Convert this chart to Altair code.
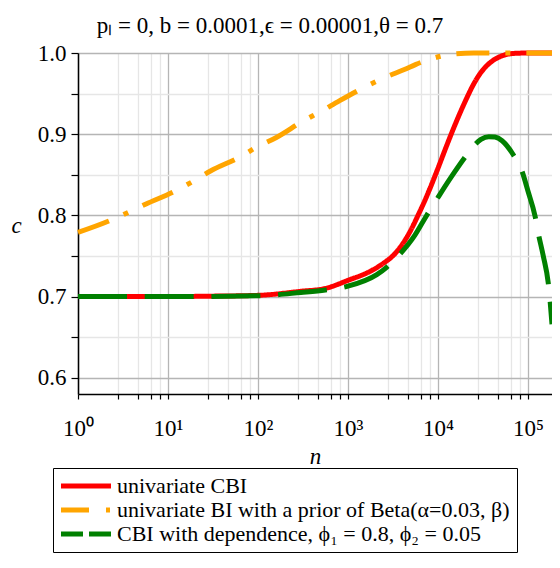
import altair as alt
import pandas as pd

# ---- data ----
series_names = [
    "univariate CBI",
    "univariate BI with a prior of Beta(α=0.03, β)",
    "CBI with dependence, ϕ₁ = 0.8, ϕ₂ = 0.05",
]
series_colors = ["#ff0000", "#ffa500", "#008000"]

red_n = [1, 10, 30, 100, 300, 560, 1000, 1760, 2700, 3000, 4000, 5000, 6000,
         7000, 8000, 10000, 12500, 15000, 20000, 25000, 30000, 40000, 50000,
         70000, 100000, 185000]
red_c = [0.700, 0.700, 0.7005, 0.7015, 0.7065, 0.710, 0.720, 0.731, 0.744,
         0.748, 0.764, 0.782, 0.800, 0.816, 0.831, 0.858, 0.886, 0.908, 0.940,
         0.962, 0.976, 0.990, 0.996, 0.9995, 1.0, 1.0]

orange_n = [1, 2.2, 3.5, 5.7, 12, 19, 30, 63, 100, 160, 320, 500, 800, 1600,
            2600, 4300, 5700, 8800, 15000, 25000, 185000]
orange_c = [0.779, 0.793, 0.803, 0.814, 0.830, 0.842, 0.855, 0.872, 0.885,
            0.896, 0.9165, 0.928, 0.941, 0.959, 0.970, 0.980, 0.986, 0.9935,
            0.9988, 1.0, 1.0]

green_n = [1, 10, 100, 300, 560, 1000, 2090, 2690, 3760, 5500, 7400, 10000,
           14000, 19500, 25100, 30000, 36700, 43000, 51600, 69200, 85700,
           100000, 120000, 130300, 148000, 168000, 175400, 185000]
green_c = [0.700, 0.700, 0.701, 0.705, 0.708, 0.7128, 0.727, 0.736, 0.752,
           0.775, 0.799, 0.822, 0.847, 0.870, 0.886, 0.8935, 0.897, 0.8965,
           0.892, 0.874, 0.8547, 0.830, 0.799, 0.778, 0.750, 0.717, 0.697,
           0.666]

x_major = [1, 10, 100, 1000, 10000, 100000]
x_minor_mult = [2.8, 4.6, 6.4, 8.2]
x_domain = [1, 185000]
y_domain = [0.58, 1.0]
x_ticks = sorted(x_major + [m * d for d in x_major for m in x_minor_mult if m * d <= x_domain[1]])
y_ticks = [0.6, 0.65, 0.7, 0.75, 0.8, 0.85, 0.9, 0.95, 1.0]

title_text = "pₗ = 0, b = 0.0001,ϵ = 0.00001,θ = 0.7"

rows = []
for name, ns, cs in zip(series_names, [red_n, orange_n, green_n], [red_c, orange_c, green_c]):
    for n, c in zip(ns, cs):
        rows.append({"n": n, "c": c, "series": name})
df = pd.DataFrame(rows)

FONT = "Liberation Serif"
MAJOR_GRID = "#b5b5b5"
MINOR_GRID = "#e6e6e6"

x_is_major = "abs(log(datum.value)/LN10 - round(log(datum.value)/LN10)) < 0.001"
y_is_major = "abs(datum.value*10 - round(datum.value*10)) < 0.001"

X = alt.X(
    "n:Q",
    scale=alt.Scale(type="log", domain=x_domain, nice=False),
    axis=alt.Axis(
        values=x_ticks,
        labelExpr="(" + x_is_major + ") ? '10' + ['⁰','¹','²','³','⁴','⁵'][round(log(datum.value)/LN10)] : ''",
        gridColor={"condition": {"test": x_is_major, "value": MAJOR_GRID}, "value": MINOR_GRID},
        gridWidth=1.3,
        domainColor="black", domainWidth=1.5,
        tickColor="black", tickSize=5, tickWidth=1.2,
        labelFont=FONT, labelFontSize=23, labelColor="black", labelPadding=18,
        labelFlush=False, labelOverlap=False,
        title="n", titleFont=FONT, titleFontSize=23, titleFontStyle="italic",
        titleFontWeight="normal", titleColor="black", titleY=62, titleBaseline="middle",
    ),
)
Y = alt.Y(
    "c:Q",
    scale=alt.Scale(domain=y_domain, nice=False, zero=False),
    axis=alt.Axis(
        values=y_ticks,
        labelExpr="(" + y_is_major + ") ? format(datum.value, '.1f') : ''",
        gridColor={"condition": {"test": y_is_major, "value": MAJOR_GRID}, "value": MINOR_GRID},
        gridWidth=1.3,
        domainColor="black", domainWidth=1.5,
        tickColor="black", tickSize=7, tickWidth=1.2,
        labelFont=FONT, labelFontSize=23, labelColor="black", labelPadding=5,
        labelOverlap=False,
        title="c", titleFont=FONT, titleFontSize=23, titleFontStyle="italic",
        titleFontWeight="normal", titleColor="black", titleAngle=0,
        titleX=-62, titleY=172, titleAlign="center", titleBaseline="middle",
    ),
)


def line_layer(name, color, dash):
    return (
        alt.Chart(df)
        .transform_filter(alt.datum.series == name)
        .mark_line(color=color, strokeWidth=5, strokeDash=dash, interpolate="monotone")
        .encode(x=X, y=Y)
    )


red_layer = line_layer(series_names[0], series_colors[0], [1, 0])
orange_layer = line_layer(series_names[1], series_colors[1], [33, 16, 5, 16])
green_layer = line_layer(series_names[2], series_colors[2], [49, 17.7])

legend_layer = (
    alt.Chart(df)
    .transform_filter("false")
    .mark_line(strokeWidth=5)
    .encode(
        x=X,
        y=Y,
        color=alt.Color(
            "series:N",
            scale=alt.Scale(domain=series_names, range=series_colors),
            legend=alt.Legend(title=None, orient="none", legendX=-25, legendY=415),
        ),
        strokeDash=alt.StrokeDash(
            "series:N",
            scale=alt.Scale(domain=series_names, range=[[1, 0], [28, 17, 4, 17], [22, 6, 22, 6]]),
            legend=alt.Legend(title=None, orient="none", legendX=-25, legendY=415),
        ),
    )
)

chart = (
    alt.layer(red_layer, orange_layer, green_layer, legend_layer)
    .properties(
        width=474,
        height=341,
        padding={"left": 70, "top": 45, "right": 0, "bottom": 166},
        autosize=alt.AutoSizeParams(type="none"),
        title=alt.TitleParams(
            title_text, font=FONT, fontSize=23, fontWeight="normal", color="black",
            anchor="middle", frame="group", dx=-45, offset=4,
        ),
    )
    .configure_view(stroke=None)
    .configure_legend(
        strokeColor="black", strokeWidth=1, padding=7, fillColor="white",
        cornerRadius=0, labelFont=FONT, labelFontSize=22, labelColor="black",
        labelLimit=0, symbolType="M-5,0L5,0", symbolSize=100, symbolStrokeWidth=5,
        symbolOffset=15, labelOffset=20, rowPadding=2,
    )
)

chart.save("out.html", embed_options={"renderer": "svg", "actions": False})
